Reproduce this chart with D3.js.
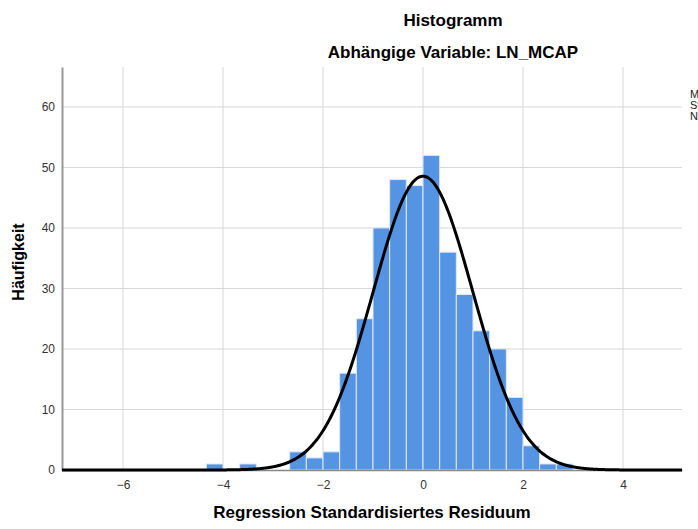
<!DOCTYPE html>
<html>
<head>
<meta charset="utf-8">
<script src="https://cdn.jsdelivr.net/npm/d3@7"></script>
<style>
  body { margin: 0; background: #fff; font-family: "Liberation Sans", Arial, sans-serif; }
  .grid line { stroke: #d6d6d6; stroke-width: 1; }
  .tick text { fill: #333; font-size: 12px; }
</style>
</head>
<body>
<script>
// Histogram bins (bin start, width 1/3) and counts
const binStarts = [-13, -11, -8, -7, -6, -5, -4, -3, -2, -1, 0, 1, 2, 3, 4, 5, 6, 7, 8].map(k => k / 3);
const binWidth = 1 / 3;
const counts = [1, 1, 3, 2, 3, 16, 25, 40, 48, 47, 52, 36, 29, 23, 20, 12, 4, 1, 1];

// Normal curve parameters
const mean = 0;
const stdDev = 0.997;
const n = 364;

const xTicks = [-6, -4, -2, 0, 2, 4];
const yTicks = [0, 10, 20, 30, 40, 50, 60];
const legendLines = ["Mittelwert = -5,32E-15", "Std.-Abw. = 0,997", "N = 364"];

const svgWidth = 698;
const svgHeight = 529;
const margin = { top: 67, right: 16, bottom: 59, left: 62 };
const chartWidth = svgWidth - margin.left - margin.right;
const chartHeight = svgHeight - margin.top - margin.bottom;

let svg = d3.select("body").append("svg")
  .attr("width", svgWidth)
  .attr("height", svgHeight);

let chartGroup = svg.append("g")
  .attr("transform", `translate(${margin.left}, ${margin.top})`);

let xScale = d3.scaleLinear().domain([-7.22, 5.18]).range([0, chartWidth]);
let yScale = d3.scaleLinear().domain([0, 66.6]).range([chartHeight, 0]);

// gridlines
chartGroup.append("g").classed("grid", true)
  .selectAll("line").data(yTicks.slice(1)).join("line")
  .attr("x1", 0).attr("x2", chartWidth)
  .attr("y1", d => yScale(d)).attr("y2", d => yScale(d));

chartGroup.append("g").classed("grid", true)
  .selectAll("line").data(xTicks).join("line")
  .attr("x1", d => xScale(d)).attr("x2", d => xScale(d))
  .attr("y1", 0).attr("y2", chartHeight);

// bars
chartGroup.append("g")
  .selectAll("rect").data(counts).join("rect")
  .attr("x", (d, i) => xScale(binStarts[i]))
  .attr("width", (d, i) => xScale(binStarts[i] + binWidth) - xScale(binStarts[i]))
  .attr("y", d => yScale(d))
  .attr("height", d => chartHeight - yScale(d))
  .attr("fill", "#5593e3")
  .attr("stroke", "#dfe9f7")
  .attr("stroke-width", 1);

// axes
let bottomAxis = d3.axisBottom(xScale).tickValues(xTicks).tickSize(0).tickPadding(10);
let leftAxis = d3.axisLeft(yScale).tickValues(yTicks).tickSize(0).tickPadding(7);

chartGroup.append("g")
  .attr("transform", `translate(0, ${chartHeight})`)
  .call(bottomAxis)
  .call(g => g.select(".domain").attr("stroke", "#888").attr("stroke-width", 1.5));

chartGroup.append("g")
  .call(leftAxis)
  .call(g => g.select(".domain").attr("stroke", "#999").attr("stroke-width", 2));

// normal curve
let curveX = d3.range(-7.22, 5.19, 0.02);
let density = x => n * binWidth / (stdDev * Math.sqrt(2 * Math.PI)) * Math.exp(-0.5 * ((x - mean) / stdDev) ** 2);
let createLine = d3.line()
  .x(d => xScale(d))
  .y(d => yScale(density(d)))
  .curve(d3.curveBasis);

chartGroup.append("path")
  .attr("d", createLine(curveX))
  .attr("fill", "none")
  .attr("stroke", "#000")
  .attr("stroke-width", 3);

// titles
svg.append("text").attr("x", 453).attr("y", 26).attr("text-anchor", "middle")
  .attr("font-size", 17).attr("font-weight", "bold").text("Histogramm");
svg.append("text").attr("x", 453).attr("y", 58).attr("text-anchor", "middle")
  .attr("font-size", 17).attr("font-weight", "bold").text("Abhängige Variable: LN_MCAP");
svg.append("text").attr("x", 372).attr("y", 518).attr("text-anchor", "middle")
  .attr("font-size", 17).attr("font-weight", "bold").text("Regression Standardisiertes Residuum");
svg.append("text").attr("transform", "translate(24, 262) rotate(-90)").attr("text-anchor", "middle")
  .attr("font-size", 16).attr("font-weight", "bold").text("Häufigkeit");

// legend (cut off at right edge, as in the original)
svg.append("g").selectAll("text").data(legendLines).join("text")
  .attr("x", 690).attr("y", (d, i) => 98 + i * 11)
  .attr("font-size", 11).attr("fill", "#222").text(d => d);
</script>
</body>
</html>
